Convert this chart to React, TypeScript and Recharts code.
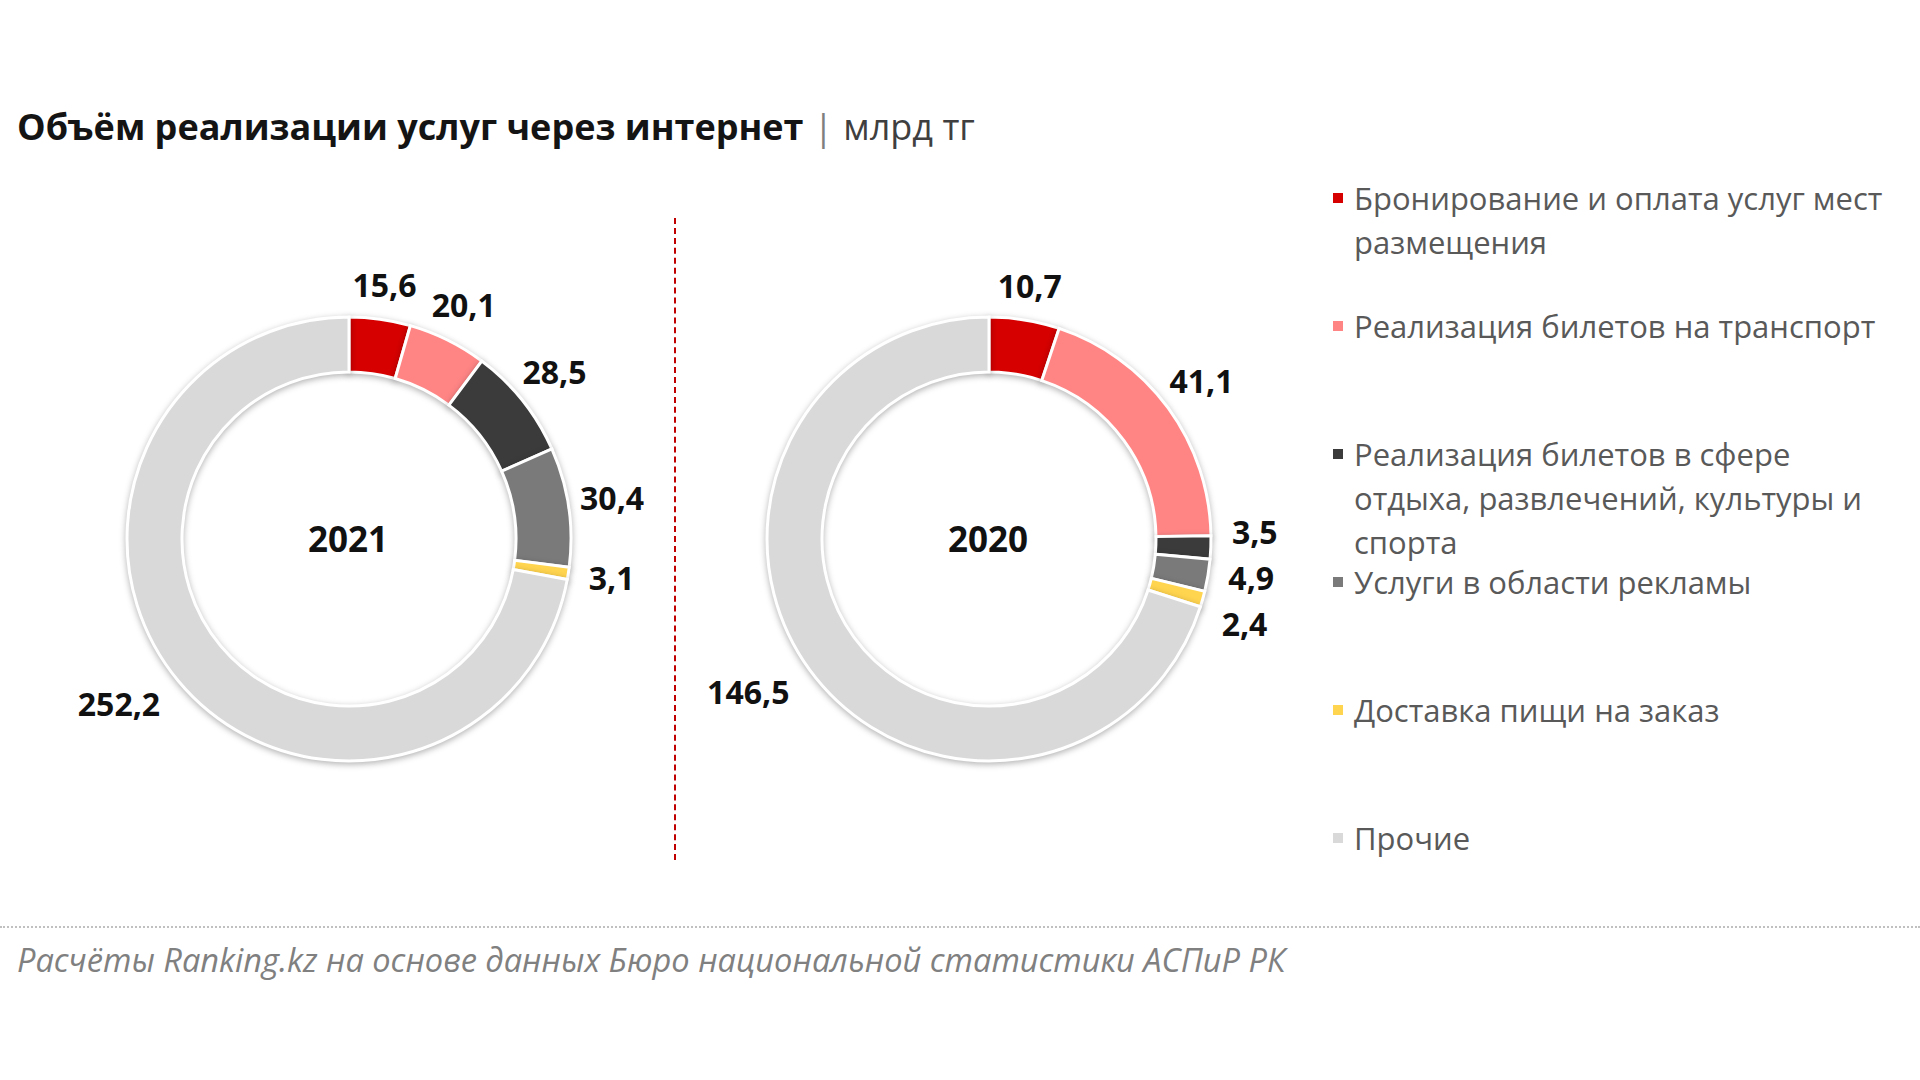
import React from 'react';
import { PieChart, Pie, Cell, Label } from 'recharts';

const categories = [
  'Бронирование и оплата услуг мест размещения',
  'Реализация билетов на транспорт',
  'Реализация билетов в сфере отдыха, развлечений, культуры и спорта',
  'Услуги в области рекламы',
  'Доставка пищи на заказ',
  'Прочие',
];
const legendLines = [
  ['Бронирование и оплата услуг мест', 'размещения'],
  ['Реализация билетов на транспорт'],
  ['Реализация билетов в сфере', 'отдыха, развлечений, культуры и', 'спорта'],
  ['Услуги в области рекламы'],
  ['Доставка пищи на заказ'],
  ['Прочие'],
];
const values2021 = [15.6, 20.1, 28.5, 30.4, 3.1, 252.2];
const values2020 = [10.7, 41.1, 3.5, 4.9, 2.4, 146.5];
const colors = ['#D60000', '#FF8585', '#3B3B3B', '#7A7A7A', '#FFD44F', '#D9D9D9'];
const years = ['2021', '2020'];

const FONT = '"Open Sans", "Noto Sans", sans-serif';
const RAD = Math.PI / 180;
const CX = 344;
const CY = 314;
const R_IN = 167;
const R_OUT = 222;
const LABEL_FS = 32;

const fmt = (v: number) => v.toFixed(1).replace('.', ',');

// label offsets from centre, derived from the data's angles, with simple collision spreading
const labelOffsets = (values: number[]) => {
  const total = values.reduce((a, b) => a + b, 0);
  let acc = 0;
  const pos = values.map((v) => {
    const th = ((acc + v / 2) / total) * 360;
    acc += v;
    const s = Math.sin(th * RAD);
    const c = Math.cos(th * RAD);
    const d = R_OUT + 30 + Math.abs(s) * 14;
    return { x: d * s + (s < -0.3 ? -28 : 0), y: -d * c, right: s > 0.3 };
  });
  const orig = pos.map((p) => p.y);
  const gap = 46;
  let cluster: number[] = [];
  const flush = () => {
    if (cluster.length > 1) {
      const mean = cluster.reduce((a, i) => a + (pos[i].y - orig[i]), 0) / cluster.length;
      cluster.forEach((i) => (pos[i].y -= mean));
    }
    cluster = [];
  };
  for (let i = 0; i < pos.length; i++) {
    const prev = i - 1;
    if (
      prev >= 0 &&
      pos[i].right &&
      pos[prev].right &&
      Math.abs(pos[i].x - pos[prev].x) < 70 &&
      pos[i].y - pos[prev].y < gap
    ) {
      if (cluster.length === 0) cluster.push(prev);
      pos[i].y = pos[prev].y + gap;
      cluster.push(i);
    } else {
      flush();
    }
  }
  flush();
  return pos;
};

const Donut = ({ values, year }: { values: number[]; year: string }) => {
  const data = categories.map((name, i) => ({ name, value: values[i] }));
  const offs = labelOffsets(values);
  const renderLabel = (p: any) => {
    const o = offs[p.index];
    return (
      <text
        x={p.cx + o.x}
        y={p.cy + o.y - 3}
        textAnchor="middle"
        dominantBaseline="central"
        fontFamily={FONT}
        fontWeight={700}
        fontSize={LABEL_FS}
        fill="#111"
      >
        {fmt(p.value)}
      </text>
    );
  };
  return (
    <PieChart width={660} height={640}>
      <Pie
        data={data}
        dataKey="value"
        nameKey="name"
        cx={CX}
        cy={CY}
        innerRadius={R_IN}
        outerRadius={R_OUT}
        startAngle={90}
        endAngle={-270}
        stroke="#ffffff"
        strokeWidth={3}
        isAnimationActive={false}
        labelLine={false}
        label={renderLabel}
      >
        {data.map((d, i) => (
          <Cell
            key={d.name}
            fill={colors[i]}
            style={{ filter: 'drop-shadow(0px 2px 3px rgba(0,0,0,0.3))' }}
          />
        ))}
        <Label
          position="center"
          content={(props: any) => {
            const vb = props && props.viewBox ? props.viewBox : {};
            const x = typeof vb.cx === 'number' ? vb.cx : CX;
            const y = typeof vb.cy === 'number' ? vb.cy : CY;
            return (
              <text
                x={x + 4}
                y={y + 4}
                textAnchor="middle"
                dominantBaseline="central"
                fontFamily={FONT}
                fontWeight={700}
                fontSize={35}
                fill="#111"
              >
                {year}
              </text>
            );
          }}
        />
      </Pie>
    </PieChart>
  );
};

export default function App() {
  return (
    <div
      style={{
        position: 'absolute',
        left: 0,
        top: 0,
        width: 1920,
        height: 1080,
        background: '#fff',
        fontFamily: FONT,
        overflow: 'hidden',
      }}
    >
      <div
        style={{
          position: 'absolute',
          left: 17,
          top: 106,
          fontSize: 36,
          lineHeight: '42px',
          whiteSpace: 'nowrap',
          color: '#141414',
        }}
      >
        <span style={{ fontWeight: 700 }}>Объём реализации услуг через интернет</span>
        <span style={{ color: '#7f7f7f', margin: '0 10px' }}>|</span>
        <span style={{ color: '#3f3f3f' }}>млрд тг</span>
      </div>

      <div style={{ position: 'absolute', left: 0, top: 220 }}>
        <Donut values={values2021} year={years[0]} />
      </div>
      <div style={{ position: 'absolute', left: 640, top: 220 }}>
        <Donut values={values2020} year={years[1]} />
      </div>

      <div
        style={{
          position: 'absolute',
          left: 674,
          top: 218,
          height: 642,
          width: 0,
          borderLeft: '2px dashed #C00000',
        }}
      />

      <div style={{ position: 'absolute', left: 1333, top: 176 }}>
        {legendLines.map((lines, i) => (
          <div key={i} style={{ height: 128, display: 'flex', alignItems: 'flex-start' }}>
            <div
              style={{
                width: 10,
                height: 10,
                background: colors[i],
                marginTop: 17,
                marginRight: 11,
                flex: 'none',
              }}
            />
            <div style={{ fontSize: 31, lineHeight: '44px', color: '#595959', whiteSpace: 'nowrap' }}>
              {lines.map((l, j) => (
                <div key={j}>{l}</div>
              ))}
            </div>
          </div>
        ))}
      </div>

      <div
        style={{
          position: 'absolute',
          left: 0,
          top: 926,
          width: 1920,
          height: 0,
          borderTop: '2px dotted #c0c0c0',
        }}
      />
      <div
        style={{
          position: 'absolute',
          left: 17,
          top: 938,
          fontSize: 32.6,
          lineHeight: '44px',
          fontStyle: 'italic',
          color: '#808080',
          whiteSpace: 'nowrap',
        }}
      >
        Расчёты Ranking.kz на основе данных Бюро национальной статистики АСПиР РК
      </div>
    </div>
  );
}
